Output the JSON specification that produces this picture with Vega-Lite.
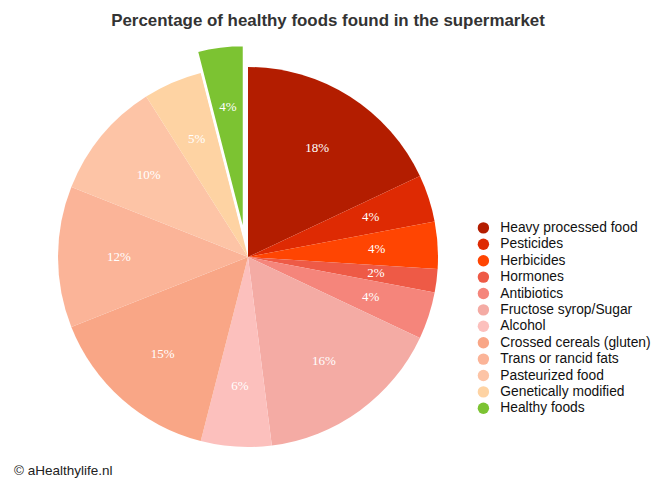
{
  "$schema": "https://vega.github.io/schema/vega-lite/v6.json",
  "width": 380,
  "height": 380,
  "autosize": "none",
  "padding": {"left": 58, "top": 67, "right": 219, "bottom": 42},
  "background": "white",
  "title": {
    "text": "Percentage of healthy foods found in the supermarket",
    "font": "Liberation Sans",
    "fontSize": 16.9,
    "fontWeight": "bold",
    "color": "#333333",
    "anchor": "middle",
    "frame": "group",
    "dx": 80,
    "offset": 10
  },
  "data": {
    "values": [
      {"idx": 1, "name": "Heavy processed food", "share": 0.18},
      {"idx": 2, "name": "Pesticides", "share": 0.04},
      {"idx": 3, "name": "Herbicides", "share": 0.04},
      {"idx": 4, "name": "Hormones", "share": 0.02},
      {"idx": 5, "name": "Antibiotics", "share": 0.04},
      {"idx": 6, "name": "Fructose syrop/Sugar", "share": 0.16},
      {"idx": 7, "name": "Alcohol", "share": 0.06},
      {"idx": 8, "name": "Crossed cereals (gluten)", "share": 0.15},
      {"idx": 9, "name": "Trans or rancid fats", "share": 0.12},
      {"idx": 10, "name": "Pasteurized food", "share": 0.10},
      {"idx": 11, "name": "Genetically modified", "share": 0.05},
      {"idx": 12, "name": "Healthy foods", "share": 0.04}
    ]
  },
  "encoding": {
    "theta": {"field": "share", "type": "quantitative", "stack": true, "scale": {"domain": [0, 1]}},
    "order": {"field": "idx", "type": "quantitative", "sort": "ascending"}
  },
  "layer": [
    {
      "mark": {"type": "arc", "stroke": null},
      "encoding": {
        "color": {
          "field": "name",
          "type": "nominal",
          "scale": {
            "domain": ["Heavy processed food", "Pesticides", "Herbicides", "Hormones", "Antibiotics", "Fructose syrop/Sugar", "Alcohol", "Crossed cereals (gluten)", "Trans or rancid fats", "Pasteurized food", "Genetically modified", "Healthy foods"],
            "range": ["#b31d00", "#de2a03", "#ff4502", "#ee5a46", "#f5857b", "#f4aba4", "#fcc0bd", "#f9a686", "#fbb498", "#fdc4a6", "#fed3a3", "#7cc332"]
          },
          "legend": {
            "orient": "none",
            "legendX": 418.5,
            "legendY": 154,
            "title": null,
            "padding": 0,
            "symbolType": "circle",
            "symbolSize": 130,
            "symbolStrokeWidth": 0,
            "labelFont": "Liberation Sans",
            "labelFontSize": 13.8,
            "labelColor": "#111111",
            "labelOffset": 10,
            "rowPadding": 1.4,
            "labelLimit": 300
          }
        },
        "opacity": {
          "condition": {"test": "datum.name === 'Healthy foods'", "value": 0},
          "value": 1
        }
      }
    },
    {
      "mark": {"type": "arc", "stroke": "white", "strokeWidth": 2.5, "xOffset": -4, "yOffset": -22},
      "encoding": {
        "color": {"field": "name", "type": "nominal"},
        "opacity": {
          "condition": {"test": "datum.name === 'Healthy foods'", "value": 1},
          "value": 0
        }
      }
    },
    {
      "mark": {"type": "text", "radius": 129, "font": "Liberation Serif", "fontSize": 13, "color": "white"},
      "encoding": {
        "text": {
          "condition": {"test": "datum.name !== 'Healthy foods'", "field": "share", "type": "quantitative", "format": ".0%"},
          "value": ""
        }
      }
    },
    {
      "mark": {"type": "text", "radius": 129, "font": "Liberation Serif", "fontSize": 13, "color": "white", "xOffset": -4, "yOffset": -22},
      "encoding": {
        "text": {
          "condition": {"test": "datum.name === 'Healthy foods'", "field": "share", "type": "quantitative", "format": ".0%"},
          "value": ""
        }
      }
    },
    {
      "data": {"values": [{"note": "© aHealthylife.nl"}]},
      "mark": {"type": "text", "font": "Liberation Sans", "fontSize": 13.5, "color": "#222222", "align": "left", "baseline": "middle"},
      "encoding": {
        "text": {"field": "note", "type": "nominal"},
        "x": {"value": -44},
        "y": {"value": 404},
        "theta": null,
        "order": null
      }
    }
  ],
  "config": {"view": {"stroke": null}}
}
